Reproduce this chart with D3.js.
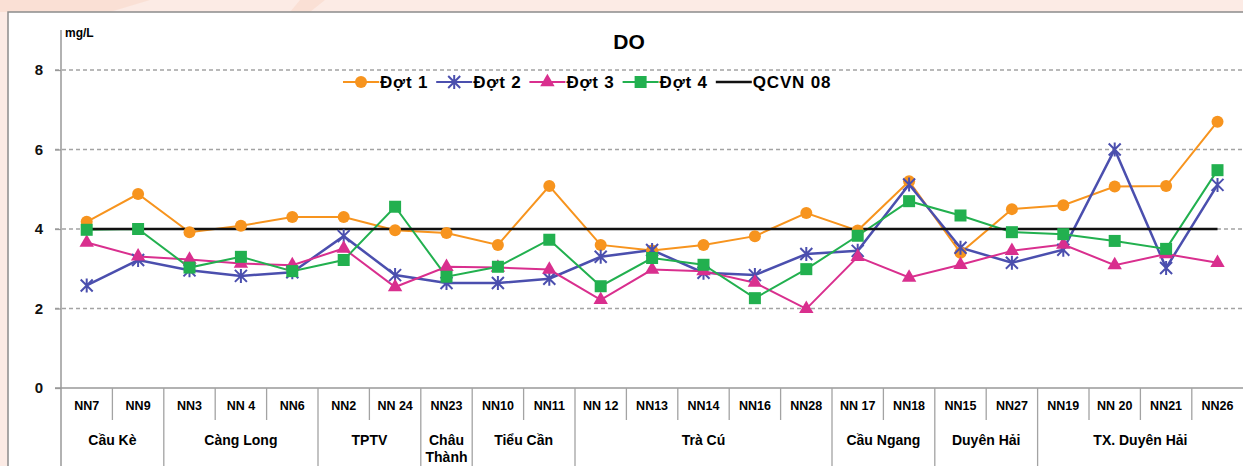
<!DOCTYPE html>
<html>
<head>
<meta charset="utf-8">
<script src="https://cdn.jsdelivr.net/npm/d3@7"></script>
<style>
  body { margin: 0; background: #fbeae4; }
  svg { display: block; font-family: "Liberation Sans", Arial, sans-serif; font-weight: bold; }
</style>
</head>
<body>
<div id="chart-area"></div>
<script>
var w = 1243;
var h = 466;

// data
const categories = ["NN7", "NN9", "NN3", "NN 4", "NN6", "NN2", "NN 24", "NN23", "NN10", "NN11", "NN 12", "NN13",
    "NN14", "NN16", "NN28", "NN 17", "NN18", "NN15", "NN27", "NN19", "NN 20", "NN21", "NN26"];
const groups = ["Cầu Kè", "Càng Long", "TPTV", "Châu Thành", "Tiểu Cần", "Trà Cú", "Cầu Ngang", "Duyên Hải", "TX. Duyên Hải"];
const groupSizes = [2, 3, 2, 1, 2, 5, 2, 2, 4];

const dot1 = [4.18, 4.88, 3.92, 4.08, 4.3, 4.3, 3.97, 3.9, 3.6, 5.08, 3.6, 3.46, 3.6, 3.82, 4.4, 3.96, 5.2, 3.4, 4.5, 4.6, 5.07, 5.08, 6.7];
const dot2 = [2.58, 3.22, 2.96, 2.82, 2.91, 3.82, 2.84, 2.64, 2.64, 2.75, 3.3, 3.47, 2.9, 2.84, 3.37, 3.45, 5.12, 3.53, 3.15, 3.48, 6.0, 3.02, 5.11];
const dot3 = [3.66, 3.31, 3.23, 3.13, 3.09, 3.51, 2.54, 3.05, 3.03, 2.98, 2.22, 2.98, 2.94, 2.65, 1.99, 3.3, 2.78, 3.1, 3.45, 3.61, 3.09, 3.37, 3.15];
const dot4 = [3.98, 4.0, 3.03, 3.3, 2.94, 3.22, 4.56, 2.8, 3.05, 3.73, 2.56, 3.27, 3.1, 2.26, 2.99, 3.83, 4.7, 4.34, 3.92, 3.87, 3.7, 3.5, 5.48];
const qcvn = 4;
const yTicks = [0, 2, 4, 6, 8];

const seriesNames = ["Đợt 1", "Đợt 2", "Đợt 3", "Đợt 4", "QCVN 08"];
const seriesColors = ["#f7941e", "#4b4fae", "#d92f8e", "#22b04f", "#111111"];
const seriesMarkers = ["circle", "star", "triangle", "square", "none"];

var svg = d3.select("#chart-area").append("svg")
    .attr("width", w)
    .attr("height", h);

// slide background + frame
svg.append("rect").attr("width", w).attr("height", h).attr("fill", "#fcebe5");
svg.append("path").attr("d", "M0,0 L150,0 L110,12 L0,12 Z").attr("fill", "#f9dccf").attr("opacity", 0.7);
svg.append("path").attr("d", "M300,0 L325,0 L310,12 L290,12 Z").attr("fill", "#f9dccf").attr("opacity", 0.7);
svg.append("rect")
    .attr("x", 8).attr("y", 12)
    .attr("width", w).attr("height", h)
    .attr("fill", "#ffffff")
    .attr("stroke", "#8c8c8c")
    .attr("stroke-width", 1.5);

var x = d3.scaleBand()
    .domain(categories)
    .range([61, 61 + 23 * 51.4]);

var y = d3.scaleLinear()
    .domain([0, 8])
    .range([388, 70]);

const cx = d => x(d) + x.bandwidth() / 2;

// grid lines
svg.append("g").selectAll("line")
    .data(yTicks.filter(t => t > 0))
    .enter().append("line")
    .attr("x1", 55).attr("x2", w)
    .attr("y1", d => y(d)).attr("y2", d => y(d))
    .attr("stroke", "#a3a3a3")
    .attr("stroke-width", 1.3)
    .attr("stroke-dasharray", "4,3");

// y axis
var yAxis = svg.append("g")
    .attr("transform", "translate(61,0)")
    .call(d3.axisLeft(y).tickValues(yTicks).tickSize(6).tickPadding(12).tickFormat(d3.format("d")));
yAxis.select(".domain").remove();
yAxis.selectAll(".tick line").attr("stroke", "#999").attr("stroke-width", 1.3);
yAxis.selectAll(".tick text")
    .attr("font-size", 15).attr("font-weight", "bold")
    .attr("font-family", "Liberation Sans, Arial, sans-serif")
    .attr("fill", "#111");

svg.append("line")
    .attr("x1", 61).attr("x2", 61).attr("y1", 30).attr("y2", h)
    .attr("stroke", "#999").attr("stroke-width", 1.5);
svg.append("line")
    .attr("x1", 55).attr("x2", w).attr("y1", y(0)).attr("y2", y(0))
    .attr("stroke", "#999").attr("stroke-width", 1.5);

svg.append("text")
    .attr("x", 65).attr("y", 37)
    .attr("font-size", 12)
    .text("mg/L");

svg.append("text")
    .attr("x", 629).attr("y", 49)
    .attr("text-anchor", "middle")
    .attr("font-size", 21)
    .text("DO");

// category separators and labels
var groupStarts = [];
var acc = 0;
groupSizes.forEach(function(n) { groupStarts.push(acc); acc += n; });

svg.append("g").selectAll("line")
    .data(categories.slice(1).map((c, i) => i + 1))
    .enter().append("line")
    .attr("x1", i => x(categories[i])).attr("x2", i => x(categories[i]))
    .attr("y1", y(0))
    .attr("y2", i => groupStarts.indexOf(i) >= 0 ? h : 420)
    .attr("stroke", "#a3a3a3")
    .attr("stroke-width", 1.3);

svg.append("g").selectAll("text")
    .data(categories)
    .enter().append("text")
    .attr("x", d => cx(d))
    .attr("y", 410)
    .attr("text-anchor", "middle")
    .attr("font-size", 12.5)
    .text(d => d);

var gLabels = svg.append("g").selectAll("text")
    .data(groups)
    .enter().append("text")
    .attr("x", (d, i) => {
        var first = categories[groupStarts[i]];
        var last = categories[groupStarts[i] + groupSizes[i] - 1];
        return (x(first) + x(last) + x.bandwidth()) / 2;
    })
    .attr("y", 445)
    .attr("text-anchor", "middle")
    .attr("font-size", 14);

gLabels.each(function(d) {
    var el = d3.select(this);
    if (d === "Châu Thành") {
        var parts = d.split(" ");
        el.append("tspan").attr("x", el.attr("x")).text(parts[0]);
        el.append("tspan").attr("x", el.attr("x")).attr("dy", 17).text(parts[1]);
    } else {
        el.text(d);
    }
});

// marker drawing
function drawMarker(sel, type, color) {
    if (type === "circle") {
        sel.append("circle").attr("r", 6).attr("fill", color);
    } else if (type === "square") {
        sel.append("rect").attr("x", -6).attr("y", -6).attr("width", 12).attr("height", 12).attr("fill", color);
    } else if (type === "triangle") {
        sel.append("path").attr("d", d3.symbol().type(d3.symbolTriangle).size(90)).attr("fill", color);
    } else if (type === "star") {
        sel.append("path")
            .attr("d", "M-6,-6L6,6M-6,6L6,-6M0,-7L0,7")
            .attr("stroke", color).attr("stroke-width", 2).attr("fill", "none");
    }
}

var line = d3.line()
    .x((d, i) => cx(categories[i]))
    .y(d => y(d));

var series = [dot1, dot2, dot3, dot4];
series.forEach(function(vals, s) {
    svg.append("path")
        .datum(vals)
        .attr("d", line)
        .attr("fill", "none")
        .attr("stroke", seriesColors[s])
        .attr("stroke-width", s === 1 ? 2.5 : 2);
});

// QCVN line
svg.append("line")
    .attr("x1", cx(categories[0])).attr("x2", cx(categories[categories.length - 1]))
    .attr("y1", y(qcvn)).attr("y2", y(qcvn))
    .attr("stroke", seriesColors[4])
    .attr("stroke-width", 2.5);

series.forEach(function(vals, s) {
    svg.append("g").selectAll("g")
        .data(vals)
        .enter().append("g")
        .attr("transform", (d, i) => "translate(" + cx(categories[i]) + "," + y(d) + ")")
        .each(function() { drawMarker(d3.select(this), seriesMarkers[s], seriesColors[s]); });
});

// legend
var legend = svg.append("g").attr("transform", "translate(343,82)");
var lx = 0;
seriesNames.forEach(function(name, i) {
    var item = legend.append("g").attr("transform", "translate(" + lx + ",0)");
    item.append("line")
        .attr("x1", 0).attr("x2", 36).attr("y1", 0).attr("y2", 0)
        .attr("stroke", seriesColors[i])
        .attr("stroke-width", i === 4 ? 2.5 : 2);
    var m = item.append("g").attr("transform", "translate(18,0)");
    drawMarker(m, seriesMarkers[i], seriesColors[i]);
    var t = item.append("text")
        .attr("x", 37).attr("y", 6)
        .attr("font-size", 17)
        .attr("letter-spacing", "0.8")
        .text(name);
    lx += 37 + t.node().getComputedTextLength() + 8;
});
</script>
</body>
</html>
